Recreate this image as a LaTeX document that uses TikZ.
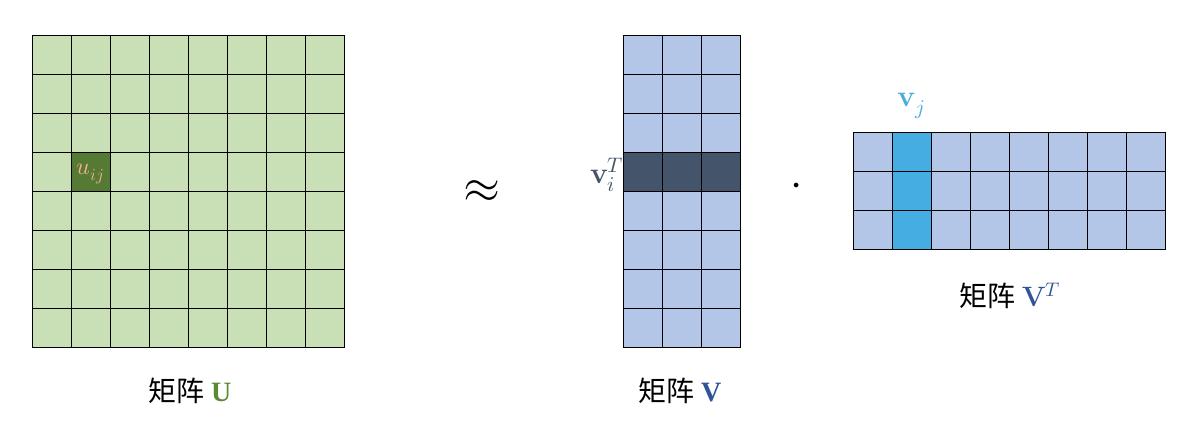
\documentclass[tikz,border=0pt]{standalone}
\usepackage{fontspec}
\usepackage{unicode-math}
\setmathfont{Latin Modern Math}
\newfontfamily\cjk{Noto Sans CJK SC}
\newfontfamily\bser{Liberation Serif}
\definecolor{lg}{HTML}{C9DFB5}
\definecolor{dg}{HTML}{557A34}
\definecolor{lb}{HTML}{B4C6E7}
\definecolor{db}{HTML}{44546A}
\definecolor{bb}{HTML}{45ADE2}
\definecolor{tg}{HTML}{5B8A33}
\definecolor{tb}{HTML}{2F5597}
\definecolor{to}{HTML}{F4B183}
\begin{document}
\begin{tikzpicture}[x=1pt,y=-1pt,
  cellg/.style={fill=lg,draw=black,line width=0.8pt},
  lab/.style={font=\fontsize{28}{30}\selectfont}]
\useasboundingbox (0,0) rectangle (1192,422);
% U
\foreach \i in {0,...,7}{\foreach \j in {0,...,7}{
  \draw[cellg] (32+39.1*\i,35+39*\j) rectangle ++(39.1,39);}}
\fill[dg] (32+39.1,35+39*3) rectangle ++(39.1,39);
\draw[line width=0.8pt] (32+39.1,35+39*3) rectangle ++(39.1,39);
\node[text=to,font=\fontsize{24}{26}\selectfont] (uij) at (90.5,173.5) {$u_{ij}$};
% V
\foreach \i in {0,...,2}{\foreach \j in {0,...,7}{
  \draw[fill=lb,line width=0.8pt] (623+39*\i,35+39*\j) rectangle ++(39,39);}}
\foreach \i in {0,...,2}{\draw[fill=db,line width=0.8pt] (623+39*\i,35+39*3) rectangle ++(39,39);}
\node[text=db,font=\fontsize{30}{32}\selectfont,anchor=east,inner sep=1pt] (vi) at (625,175) {$\mathbf{v}_i^T$};
% VT
\foreach \i in {0,...,7}{\foreach \j in {0,...,2}{
  \draw[fill=lb,line width=0.8pt] (853+39.1*\i,132+39*\j) rectangle ++(39.1,39);}}
\foreach \j in {0,...,2}{\draw[fill=bb,line width=0.8pt] (853+39.1,132+39*\j) rectangle ++(39.1,39);}
\node[text=bb,font=\fontsize{30}{32}\selectfont] (vj) at (911,106) {$\mathbf{v}_j$};
% symbols
\node[font=\fontsize{48}{50}\selectfont] (ap) at (482,192) {$\approx$};
\node[font=\fontsize{44}{46}\selectfont] (dot) at (797,190) {$\cdot$};
% labels
\node[lab] (lu) at (190,391) {\cjk 矩阵 \textcolor{tg}{\bser\bfseries U}};
\node[lab] (lv) at (680,391) {\cjk 矩阵 \textcolor{tb}{\bser\bfseries V}};
\node[lab] (lvt) at (1010,296) {\cjk 矩阵 \textcolor{tb}{$\mathbf{V}^{T}$}};
\end{tikzpicture}
\end{document}
